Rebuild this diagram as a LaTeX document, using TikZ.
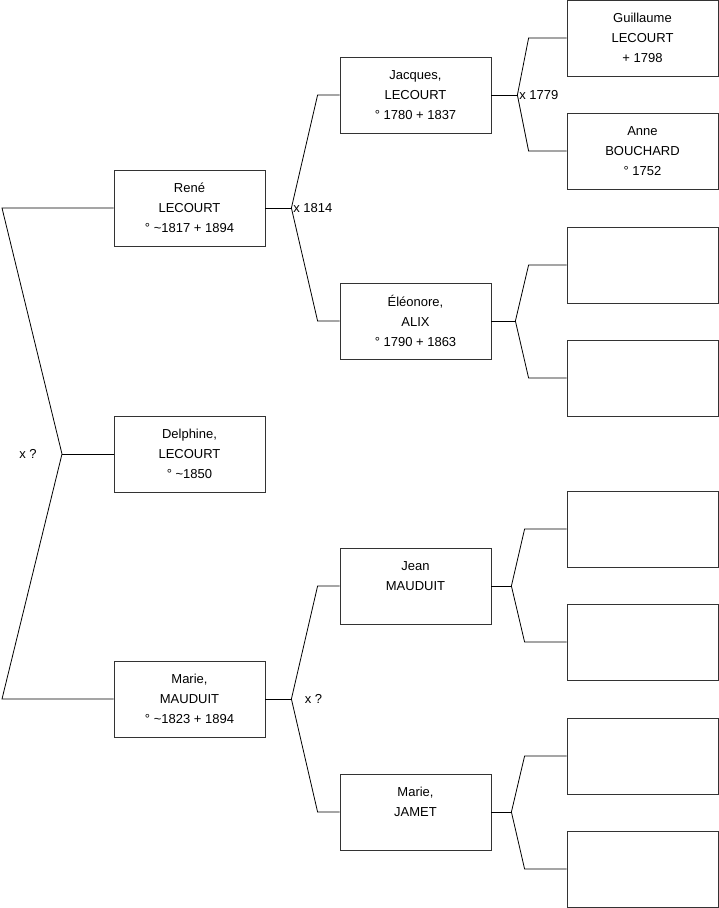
\documentclass[tikz,border=0pt]{standalone}
\usepackage{fontspec}
\setmainfont{Liberation Sans}
\usetikzlibrary{positioning}

\begin{document}
\begin{tikzpicture}[x=1pt, y=-1pt, line width=0.8pt,
  font=\fontsize{13}{20}\selectfont,
  person/.style={draw=black!80, minimum width=151pt, minimum height=76pt, inner sep=0pt, align=center},
  wedding/.style={inner sep=1pt}]
  \useasboundingbox (0,0) rectangle (719,908);
  % generation 1
  \node[person] (rene) at (189.5,208) {René\\LECOURT\\° \textasciitilde1817 + 1894};
  \node[person] (delphine) at (189.5,454) {Delphine,\\LECOURT\\° \textasciitilde1850};
  \node[person] (marie) at (189.5,699) {Marie,\\MAUDUIT\\° \textasciitilde1823 + 1894};
  % generation 2
  \node[person] (jacques) at (415.5,95) {Jacques,\\LECOURT\\° 1780 + 1837};
  \node[person] (eleonore) at (415.5,321) {Éléonore,\\ALIX\\° 1790 + 1863};
  \node[person] (jean) at (415.5,586) {Jean\\MAUDUIT\\\mbox{}};
  \node[person] (jamet) at (415.5,812) {Marie,\\JAMET\\\mbox{}};
  % generation 3
  \node[person] (guillaume) at (642.5,38) {Guillaume\\LECOURT\\+ 1798};
  \node[person] (anne) at (642.5,151) {Anne\\BOUCHARD\\° 1752};
  \foreach \i/\y in {1/265,2/378,3/529,4/642,5/756,6/869}{
    \node[person] (e\i) at (642.5,\y) {};
  }
  % links
  \coordinate (top) at (2,208);
  \coordinate (root) at (62,454);
  \coordinate (bot) at (2,699);
  \draw (rene.west) -- (top) -- (root) -- (bot) -- (marie.west);
  \draw (root) -- (delphine.west);
  \foreach \k/\f/\m/\a/\b in {rene/jacques/eleonore/26/22, marie/jean/jamet/26/22,
      jacques/guillaume/anne/26/38, eleonore/e1/e2/24/38, jean/e3/e4/20/42, jamet/e5/e6/20/42}{
    \coordinate (x\k) at ([xshift=\a]\k.east);
    \draw (\k.east) -- (x\k);
    \draw (\f.west) -- ++(-\b,0) -- (x\k) -- ([xshift=-\b]\m.west) -- (\m.west);
  }
  \node[wedding, left=24pt of root] (w0) {x ?};
  \node[wedding, right=0.5pt of xrene] (w1) {x 1814};
  \node[wedding, right=0.5pt of xjacques] (w2) {x 1779};
  \node[wedding, right=12pt of xmarie] (w3) {x ?};
\end{tikzpicture}
\end{document}
